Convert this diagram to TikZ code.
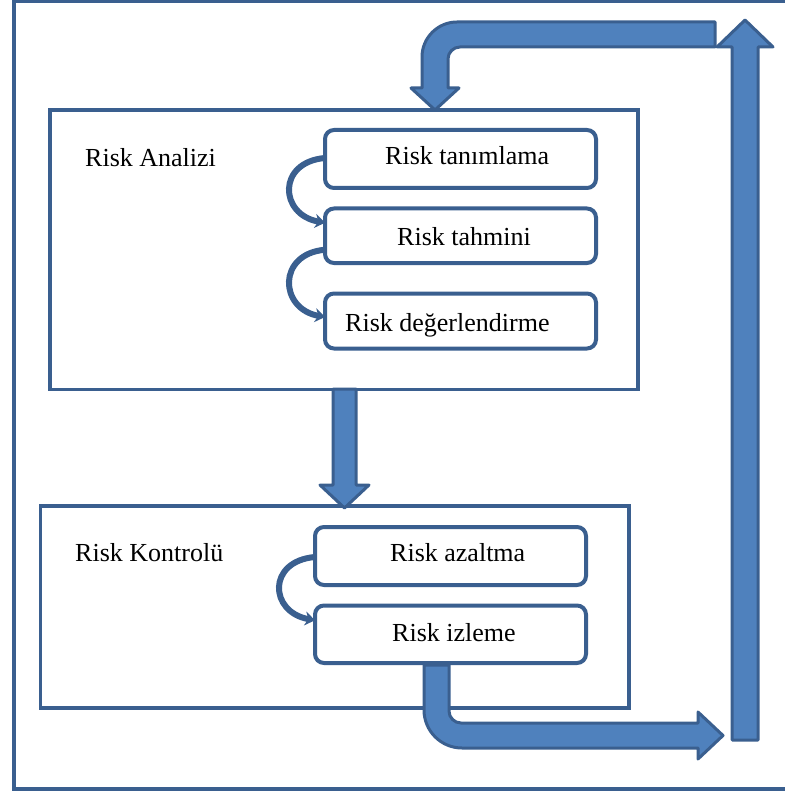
\documentclass[tikz,border=0pt]{standalone}
\usepackage{fontspec}
\setmainfont{Liberation Serif}
\usetikzlibrary{arrows.meta}
\definecolor{edgeblue}{HTML}{3A5F8F}
\definecolor{fillblue}{HTML}{4F81BD}
\begin{document}
\begin{tikzpicture}[x=1pt,y=-1pt,
  panel/.style={draw=edgeblue,line width=3.8pt,fill=white,inner sep=0pt,outer sep=0pt,anchor=north west},
  stepbox/.style={draw=edgeblue,line width=4pt,rounded corners=9pt,fill=white,inner sep=0pt,outer sep=0pt,anchor=north west},
  lbl/.style={font=\fontsize{26}{30}\selectfont,inner sep=0pt,anchor=base west},
  blockarrow/.style={draw=edgeblue,fill=fillblue,line width=3pt,line join=round},
  curl/.style={draw=edgeblue,line width=6pt,-{Stealth[length=10pt,width=14pt]}}
]
\useasboundingbox (0,0) rectangle (784,794);

% outer frame (its right side lies beyond the page)
\draw[edgeblue,line width=4pt] (14,1.5) rectangle (800,789);

% the two phase panels
\node[panel,minimum width=588pt,minimum height=279.5pt] (analiz) at (50,110) {};
\node[panel,minimum width=588.5pt,minimum height=202pt] (kontrol) at (40.5,506) {};

% block arrow from analysis to control
\path[blockarrow] (333,389) -- (333,485) -- (320,485) -- (344.5,508) -- (369,485)
  -- (356,485) -- (356,389) -- cycle;

% bent block arrow returning into the analysis panel
\path[blockarrow] (715,22) -- (457,22) .. controls (437.7,22) and (422,37.7) .. (422,57)
  -- (422,88) -- (411,88) -- (435,110) -- (459,88) -- (448,88) -- (448,59)
  .. controls (448,52.4) and (453.4,47) .. (460,47) -- (715,47) -- cycle;

% upward block arrow on the right
\path[blockarrow] (732,740) -- (732,47) -- (717,47) -- (745,20) -- (773,47)
  -- (758,47) -- (758,740) -- cycle;

% bent block arrow leaving the monitoring step
\path[blockarrow] (424,665) -- (424,710) .. controls (424,731) and (441,748) .. (462,748)
  -- (698,748) -- (698,759) -- (723,735.5) -- (698,712) -- (698,723) -- (461,723)
  .. controls (454.4,723) and (449,717.6) .. (449,711) -- (449,665) -- cycle;

% steps
\node[stepbox,minimum width=271pt,minimum height=58pt] (t1) at (325,130) {};
\node[stepbox,minimum width=271pt,minimum height=54.5pt] (t2) at (325,208.5) {};
\node[stepbox,minimum width=271pt,minimum height=55pt] (t3) at (325,293.5) {};
\node[stepbox,minimum width=271pt,minimum height=58pt] (k1) at (315,527) {};
\node[stepbox,minimum width=271pt,minimum height=57.5pt] (k2) at (315,605.5) {};

% curved arrows between consecutive steps
\draw[curl] ([yshift=1pt]t1.west) .. controls +(-48,4) and +(-46,-8) .. ([yshift=13pt]t2.west);
\draw[curl] ([yshift=-14pt]t2.west) .. controls +(-48,4) and +(-46,-8) .. ([yshift=4pt]t3.west);
\draw[curl] ([yshift=-1pt]k1.west) .. controls +(-48,4) and +(-46,-8) .. ([yshift=14pt]k2.west);

% texts
\node[lbl] (lanaliz) at (85,167) {Risk Analizi};
\node[lbl] (lkontrol) at (75,561.7) {Risk Kontrolü};
\node[lbl] (lt1) at (385,165) {Risk tanımlama};
\node[lbl] (lt2) at (397,245) {Risk tahmini};
\node[lbl] (lt3) at (345,331.7) {Risk değerlendirme};
\node[lbl] (lk1) at (390,561.7) {Risk azaltma};
\node[lbl] (lk2) at (392,641.7) {Risk izleme};
\end{tikzpicture}
\end{document}
